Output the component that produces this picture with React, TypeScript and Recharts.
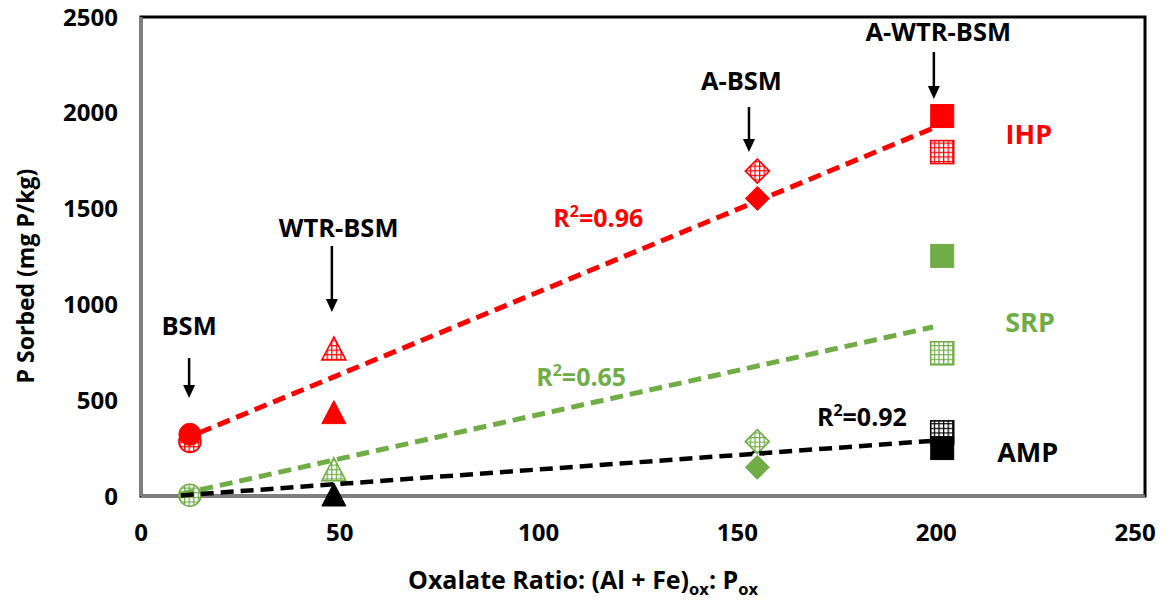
import React from 'react';
import { ComposedChart, Scatter, XAxis, YAxis, ReferenceArea, ReferenceLine } from 'recharts';

// Soil materials and their oxalate ratio (Al + Fe)ox : Pox
const sites = ['BSM', 'WTR-BSM', 'A-BSM', 'A-WTR-BSM'];
const oxalateRatio = [12.3, 48.5, 155, 201.5];

// P sorbed (mg P/kg); solid markers and grid-hatched markers
const ihpFilled = [322, 430, 1553, 1983];
const ihpHatched = [285, 762, 1696, 1795];
const srpFilled = [null, null, 150, 1253];
const srpHatched = [4, 132, 284, 745];
const ampFilled = [null, 0, 250, 250];
const ampHatched = [null, null, null, 332];

// Linear trend lines (end points)
const trendX = [10, 199.2];
const ihpTrend = [290, 1920];
const srpTrend = [10, 882];
const ampTrend = [3, 288];

const xTicks = [0, 50, 100, 150, 200, 250];
const yTicks = [0, 500, 1000, 1500, 2000, 2500];

// Site call-outs: text anchor and arrow extent, in data units
const calloutTextX = [12.1, 49.7, 151, 200.5];
const calloutTextY = [840, 1352, 2119, 2376];
const arrowX = [12.1, 48, 152.9, 199.4];
const arrowTop = [720, 1305, 2030, 2317];
const arrowBottom = [511, 960, 1795, 2072];

const fitR2 = ['0.96', '0.65', '0.92'];
const fitLabelX = [115, 110.7, 181.3];
const fitLabelY = [1404, 574, 367];

const seriesNames = ['IHP', 'SRP', 'AMP'];
const seriesLabelX = [223.3, 223.6, 223];
const seriesLabelY = [1837, 856, 177];

const RED = '#ff0000';
const GREEN = '#70ad47';
const BLACK = '#000000';
const FONT = '"Open Sans", sans-serif';

const markerKind = ['circle', 'triangle', 'diamond', 'square'];

const toPoints = (vals: (number | null)[]) =>
  oxalateRatio
    .map((x, i) => ({ x, y: vals[i], site: i }))
    .filter((d) => d.y !== null);

const makeMarker = (color: string, hatched: boolean, gridId: string, crossAt?: number) => (props: any) => {
  const { cx, cy, payload } = props;
  if (cx == null || cy == null) return <g />;
  const fill = hatched ? `url(#${gridId})` : color;
  const sw = hatched ? 1.6 : 1;
  const site = payload.site;
  if (crossAt !== undefined && site === crossAt) {
    const s = 7;
    return (
      <g stroke={color} strokeWidth={2.5}>
        <line x1={cx - s} y1={cy - s} x2={cx + s} y2={cy + s} />
        <line x1={cx - s} y1={cy + s} x2={cx + s} y2={cy - s} />
      </g>
    );
  }
  const kind = markerKind[site];
  if (kind === 'circle') return <circle cx={cx} cy={cy} r={11} fill={fill} stroke={color} strokeWidth={sw} />;
  if (kind === 'triangle')
    return (
      <polygon
        points={`${cx},${cy - 13} ${cx - 12},${cy + 10} ${cx + 12},${cy + 10}`}
        fill={fill}
        stroke={color}
        strokeWidth={sw}
      />
    );
  if (kind === 'diamond')
    return (
      <polygon
        points={`${cx},${cy - 12} ${cx + 12},${cy} ${cx},${cy + 12} ${cx - 12},${cy}`}
        fill={fill}
        stroke={color}
        strokeWidth={sw}
      />
    );
  return <rect x={cx - 11.5} y={cy - 11.5} width={23} height={23} fill={fill} stroke={color} strokeWidth={sw} />;
};

const noDot = () => <g />;

const trendData = (vals: number[]) => trendX.map((x, i) => ({ x, y: vals[i] }));

const calloutData = sites.map((s, i) => ({ x: calloutTextX[i], y: calloutTextY[i], text: s }));
const fitData = fitR2.map((r, i) => ({ x: fitLabelX[i], y: fitLabelY[i], text: r, color: [RED, GREEN, BLACK][i] }));
const seriesLabelData = seriesNames.map((s, i) => ({
  x: seriesLabelX[i],
  y: seriesLabelY[i],
  text: s,
  color: [RED, GREEN, BLACK][i],
}));

const CalloutText = (props: any) => (
  <text x={props.cx} y={props.cy} textAnchor="middle" fontFamily={FONT} fontWeight={700} fontSize={25.5} fill={BLACK}>
    {props.payload.text}
  </text>
);

const FitText = (props: any) => (
  <text x={props.cx} y={props.cy} textAnchor="middle" fontFamily={FONT} fontWeight={700} fontSize={25} fill={props.payload.color}>
    R<tspan dy={-10} fontSize={16}>2</tspan>
    <tspan dy={10}>={props.payload.text}</tspan>
  </text>
);

const SeriesText = (props: any) => (
  <text x={props.cx} y={props.cy} textAnchor="middle" fontFamily={FONT} fontWeight={700} fontSize={27} fill={props.payload.color}>
    {props.payload.text}
  </text>
);

const Arrow = (props: any) => {
  const { x1, y1, x2, y2 } = props;
  const head = 13;
  const half = 6;
  return (
    <g>
      <line x1={x1} y1={y1} x2={x2} y2={y2 - head + 1} stroke={BLACK} strokeWidth={2.5} />
      <polygon points={`${x2 - half},${y2 - head} ${x2 + half},${y2 - head} ${x2},${y2}`} fill={BLACK} />
    </g>
  );
};

const XTitle = () => (
  <text x={583} y={589} textAnchor="middle" fontFamily={FONT} fontWeight={700} fontSize={25} fill={BLACK}>
    Oxalate Ratio: (Al + Fe)
    <tspan dy={6} fontSize={16.5}>ox</tspan>
    <tspan dy={-6}>: P</tspan>
    <tspan dy={6} fontSize={16.5}>ox</tspan>
  </text>
);

const YTitle = () => (
  <text
    x={34}
    y={276}
    transform="rotate(-90 34 276)"
    textAnchor="middle"
    fontFamily={FONT}
    fontWeight={700}
    fontSize={23}
    fill={BLACK}
  >
    P Sorbed (mg P/kg)
  </text>
);

export default function App() {
  const tickStyle = { fontFamily: FONT, fontWeight: 700, fontSize: 24, fill: BLACK };
  return (
    <div style={{ position: 'absolute', left: 0, top: 0, background: '#fff' }}>
      <ComposedChart width={1173} height={607} margin={{ top: 17, right: 28, bottom: 51, left: 41 }}>
        <defs>
          <pattern id="grid-red" width="4.6" height="4.6" patternUnits="userSpaceOnUse">
            <rect width="4.6" height="4.6" fill="#fff" />
            <path d="M0 0.6 H4.6 M0.6 0 V4.6" stroke={RED} strokeWidth={1.3} />
          </pattern>
          <pattern id="grid-green" width="4.6" height="4.6" patternUnits="userSpaceOnUse">
            <rect width="4.6" height="4.6" fill="#fff" />
            <path d="M0 0.6 H4.6 M0.6 0 V4.6" stroke={GREEN} strokeWidth={1.3} />
          </pattern>
          <pattern id="grid-black" width="4.6" height="4.6" patternUnits="userSpaceOnUse">
            <rect width="4.6" height="4.6" fill="#fff" />
            <path d="M0 0.6 H4.6 M0.6 0 V4.6" stroke={BLACK} strokeWidth={1.3} />
          </pattern>
        </defs>
        <XAxis
          type="number"
          dataKey="x"
          height={60}
          domain={[0, 252.5]}
          ticks={xTicks}
          tickLine={false}
          tickSize={0}
          tickMargin={28}
          axisLine={{ stroke: '#7f7f7f', strokeWidth: 3 }}
          tick={tickStyle}
          label={<XTitle />}
        />
        <YAxis
          type="number"
          dataKey="y"
          width={100}
          domain={[0, 2500]}
          ticks={yTicks}
          tickLine={false}
          tickSize={0}
          tickMargin={23}
          axisLine={{ stroke: '#7f7f7f', strokeWidth: 3 }}
          tick={tickStyle}
          label={<YTitle />}
        />
        <ReferenceArea x1={0} x2={252.5} y1={0} y2={2500} fill="none" stroke={BLACK} strokeWidth={3} ifOverflow="visible" />

        {sites.map((_, i) => (
          <ReferenceLine
            key={`arrow-${i}`}
            segment={[
              { x: arrowX[i], y: arrowTop[i] },
              { x: arrowX[i], y: arrowBottom[i] },
            ]}
            shape={<Arrow />}
            ifOverflow="visible"
          />
        ))}

        <Scatter data={toPoints(ampHatched)} shape={makeMarker(BLACK, true, 'grid-black')} isAnimationActive={false} />
        <Scatter data={toPoints(ampFilled)} shape={makeMarker(BLACK, false, 'grid-black', 2)} isAnimationActive={false} />
        <Scatter data={toPoints(srpFilled)} shape={makeMarker(GREEN, false, 'grid-green')} isAnimationActive={false} />
        <Scatter data={toPoints(srpHatched)} shape={makeMarker(GREEN, true, 'grid-green')} isAnimationActive={false} />
        <Scatter data={toPoints(ihpHatched)} shape={makeMarker(RED, true, 'grid-red')} isAnimationActive={false} />
        <Scatter data={toPoints(ihpFilled)} shape={makeMarker(RED, false, 'grid-red')} isAnimationActive={false} />

        <Scatter
          data={trendData(srpTrend)}
          line={{ stroke: GREEN, strokeWidth: 5, strokeDasharray: '13 7' }}
          shape={noDot}
          isAnimationActive={false}
        />
        <Scatter
          data={trendData(ampTrend)}
          line={{ stroke: BLACK, strokeWidth: 4.5, strokeDasharray: '13 7' }}
          shape={noDot}
          isAnimationActive={false}
        />
        <Scatter
          data={trendData(ihpTrend)}
          line={{ stroke: RED, strokeWidth: 5, strokeDasharray: '13 7' }}
          shape={noDot}
          isAnimationActive={false}
        />

        <Scatter data={calloutData} shape={<CalloutText />} isAnimationActive={false} />
        <Scatter data={fitData} shape={<FitText />} isAnimationActive={false} />
        <Scatter data={seriesLabelData} shape={<SeriesText />} isAnimationActive={false} />
      </ComposedChart>
    </div>
  );
}
